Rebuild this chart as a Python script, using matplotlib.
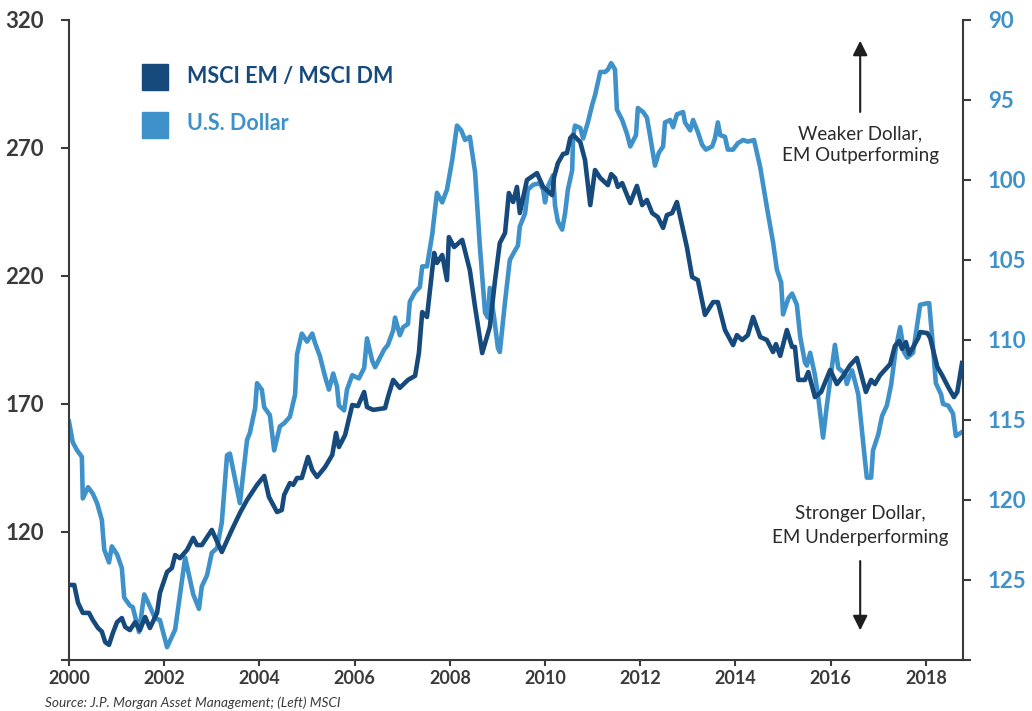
import matplotlib.pyplot as plt
from matplotlib.patches import Rectangle

# MSCI EM / MSCI DM relative index (left axis)
em_years = [
    2000.00, 2000.11, 2000.19, 2000.29, 2000.42, 2000.50, 2000.61, 2000.69, 2000.76, 2000.84,
    2000.92, 2001.01, 2001.11, 2001.18, 2001.28, 2001.39, 2001.49, 2001.60, 2001.70, 2001.85,
    2001.91, 2002.06, 2002.16, 2002.23, 2002.33, 2002.48, 2002.61, 2002.69, 2002.79, 2003.00,
    2003.21, 2003.42, 2003.59, 2003.74, 2003.95, 2004.10, 2004.20, 2004.37, 2004.47, 2004.52,
    2004.64, 2004.71, 2004.79, 2004.89, 2005.02, 2005.11, 2005.21, 2005.38, 2005.53, 2005.61,
    2005.67, 2005.80, 2005.95, 2006.07, 2006.20, 2006.26, 2006.39, 2006.64, 2006.70, 2006.81,
    2006.95, 2007.12, 2007.27, 2007.35, 2007.42, 2007.52, 2007.67, 2007.73, 2007.84, 2007.94,
    2007.98, 2008.09, 2008.26, 2008.42, 2008.53, 2008.68, 2008.84, 2008.95, 2009.05, 2009.16,
    2009.24, 2009.33, 2009.41, 2009.47, 2009.62, 2009.83, 2009.96, 2010.15, 2010.19, 2010.27,
    2010.38, 2010.46, 2010.53, 2010.59, 2010.74, 2010.84, 2010.95, 2011.05, 2011.16, 2011.32,
    2011.39, 2011.47, 2011.53, 2011.62, 2011.79, 2011.93, 2012.04, 2012.14, 2012.25, 2012.37,
    2012.48, 2012.56, 2012.67, 2012.77, 2012.90, 2012.98, 2013.09, 2013.21, 2013.36, 2013.53,
    2013.63, 2013.78, 2013.95, 2014.03, 2014.14, 2014.26, 2014.37, 2014.52, 2014.66, 2014.79,
    2014.85, 2014.94, 2015.08, 2015.19, 2015.25, 2015.32, 2015.46, 2015.53, 2015.67, 2015.80,
    2015.99, 2016.13, 2016.26, 2016.41, 2016.55, 2016.74, 2016.85, 2016.93, 2017.04, 2017.25,
    2017.35, 2017.44, 2017.50, 2017.58, 2017.65, 2017.84, 2017.88, 2018.03, 2018.09, 2018.24,
    2018.34, 2018.47, 2018.59, 2018.66, 2018.76,
]
em_values = [
    99.3, 99.3, 92.3, 88.4, 88.4, 85.6, 82.5, 81.1, 77.0, 75.9,
    80.5, 84.8, 86.4, 82.9, 81.7, 84.8, 81.7, 86.8, 82.5, 88.4,
    96.2, 104.4, 105.9, 111.0, 109.8, 113.0, 117.7, 114.9, 114.9, 120.8,
    112.2, 120.8, 127.4, 132.5, 138.4, 141.9, 133.7, 127.8, 128.6, 134.5,
    139.1, 138.4, 141.1, 141.1, 149.3, 144.2, 141.5, 145.4, 150.1, 158.7,
    153.2, 157.9, 169.6, 169.2, 174.7, 168.8, 167.7, 168.4, 172.7, 179.4,
    176.3, 179.4, 181.0, 189.9, 205.9, 204.0, 229.0, 225.1, 228.2, 218.4,
    235.2, 231.3, 234.1, 222.3, 207.9, 189.9, 200.1, 218.4, 232.9, 236.8,
    252.4, 248.9, 254.8, 244.6, 257.5, 260.2, 254.8, 251.6, 258.7, 264.1,
    267.7, 268.0, 273.9, 275.1, 272.3, 265.3, 247.7, 261.4, 258.3, 255.5,
    259.8, 258.3, 254.8, 256.3, 248.5, 255.2, 247.7, 249.7, 244.6, 243.0,
    238.8, 243.8, 244.6, 248.9, 238.0, 231.3, 219.6, 218.4, 204.8, 209.8,
    209.8, 198.9, 193.0, 196.9, 195.0, 196.9, 204.0, 196.2, 195.0, 190.3,
    193.4, 188.8, 198.9, 192.3, 192.3, 179.4, 179.4, 182.5, 172.7, 174.7,
    183.3, 177.8, 180.9, 185.2, 188.0, 174.7, 179.4, 177.8, 181.3, 185.6,
    192.7, 194.6, 191.5, 194.2, 189.5, 195.8, 198.1, 197.7, 195.8, 184.5,
    181.3, 176.6, 172.7, 174.7, 186.0,
]

# U.S. Dollar index (right axis, inverted)
usd_years = [
    2000.00, 2000.08, 2000.17, 2000.27, 2000.29, 2000.40, 2000.50, 2000.59, 2000.69, 2000.74,
    2000.84, 2000.90, 2001.01, 2001.11, 2001.16, 2001.28, 2001.34, 2001.47, 2001.58, 2001.66,
    2001.81, 2001.91, 2002.06, 2002.23, 2002.44, 2002.61, 2002.73, 2002.79, 2002.90, 2003.00,
    2003.11, 2003.21, 2003.32, 2003.38, 2003.59, 2003.74, 2003.80, 2003.91, 2003.95, 2004.05,
    2004.10, 2004.22, 2004.31, 2004.43, 2004.52, 2004.64, 2004.75, 2004.79, 2004.89, 2005.00,
    2005.11, 2005.17, 2005.27, 2005.38, 2005.46, 2005.55, 2005.63, 2005.67, 2005.78, 2005.84,
    2005.95, 2006.09, 2006.20, 2006.26, 2006.37, 2006.43, 2006.62, 2006.70, 2006.81, 2006.85,
    2006.95, 2007.02, 2007.12, 2007.16, 2007.27, 2007.37, 2007.42, 2007.52, 2007.63, 2007.73,
    2007.84, 2007.94, 2008.05, 2008.15, 2008.24, 2008.32, 2008.42, 2008.53, 2008.63, 2008.74,
    2008.80, 2008.84, 2008.93, 2009.01, 2009.05, 2009.16, 2009.26, 2009.37, 2009.43, 2009.47,
    2009.58, 2009.64, 2009.75, 2009.89, 2009.96, 2010.00, 2010.06, 2010.17, 2010.21, 2010.27,
    2010.36, 2010.42, 2010.48, 2010.57, 2010.59, 2010.63, 2010.74, 2010.80, 2010.90, 2010.99,
    2011.05, 2011.16, 2011.26, 2011.32, 2011.39, 2011.47, 2011.51, 2011.62, 2011.72, 2011.79,
    2011.91, 2011.95, 2012.06, 2012.14, 2012.21, 2012.31, 2012.39, 2012.48, 2012.52, 2012.63,
    2012.69, 2012.77, 2012.90, 2012.94, 2013.05, 2013.11, 2013.21, 2013.30, 2013.38, 2013.51,
    2013.57, 2013.63, 2013.68, 2013.78, 2013.84, 2013.95, 2014.05, 2014.16, 2014.26, 2014.39,
    2014.52, 2014.66, 2014.79, 2014.87, 2014.96, 2015.00, 2015.11, 2015.19, 2015.29, 2015.36,
    2015.46, 2015.50, 2015.57, 2015.67, 2015.74, 2015.84, 2015.92, 2016.03, 2016.09, 2016.16,
    2016.30, 2016.34, 2016.39, 2016.45, 2016.58, 2016.72, 2016.76, 2016.85, 2016.89, 2017.00,
    2017.08, 2017.18, 2017.27, 2017.37, 2017.46, 2017.54, 2017.61, 2017.73, 2017.88, 2018.03,
    2018.07, 2018.13, 2018.21, 2018.32, 2018.36, 2018.47, 2018.57, 2018.63, 2018.76,
]
usd_values = [
    115.1, 116.4, 116.9, 117.3, 119.9, 119.2, 119.6, 120.2, 121.25, 123.1,
    123.9, 122.9, 123.4, 124.25, 126.1, 126.6, 126.7, 128.25, 125.9, 126.4,
    127.4, 127.5, 129.2, 128.1, 123.6, 125.9, 126.8, 125.4, 124.7, 123.3,
    123.0, 121.4, 117.2, 117.1, 120.2, 116.25, 115.8, 114.25, 112.7, 113.1,
    114.2, 114.7, 116.9, 115.4, 115.2, 114.8, 113.4, 110.9, 109.6, 110.1,
    109.6, 110.2, 111.0, 112.3, 113.1, 112.1, 112.9, 114.1, 114.4, 113.1,
    112.2, 112.4, 111.75, 109.9, 111.3, 111.7, 110.6, 110.3, 109.4, 108.6,
    109.7, 109.2, 109.0, 107.6, 107.0, 106.7, 105.4, 105.4, 103.4, 100.8,
    101.4, 100.6, 98.75, 96.6, 96.9, 97.5, 97.3, 99.5, 104.1, 108.3,
    108.6, 106.75, 108.6, 110.5, 110.75, 107.6, 105.0, 104.4, 104.1, 102.9,
    102.1, 100.6, 100.3, 100.2, 100.6, 101.4, 100.4, 99.7, 101.6, 102.6,
    103.1, 102.1, 100.6, 99.4, 97.3, 96.6, 96.75, 97.4, 96.4, 95.3,
    94.7, 93.25, 93.25, 93.1, 92.7, 93.1, 95.6, 96.25, 97.1, 97.9,
    97.2, 95.5, 95.75, 96.1, 97.3, 99.1, 98.3, 97.9, 96.4, 96.25,
    96.7, 95.9, 95.75, 96.4, 96.9, 96.25, 97.0, 97.8, 98.1, 97.9,
    97.4, 96.4, 97.2, 97.3, 98.1, 98.1, 97.7, 97.5, 97.6, 97.5,
    99.2, 101.7, 103.9, 105.6, 106.4, 108.4, 107.4, 107.1, 107.8, 109.8,
    111.4, 111.6, 110.8, 112.2, 113.6, 116.1, 114.1, 111.6, 110.3, 111.75,
    112.1, 112.75, 112.3, 111.9, 113.4, 117.5, 118.6, 118.6, 116.9, 115.9,
    114.75, 114.1, 112.8, 110.5, 109.2, 110.75, 111.1, 110.8, 107.8, 107.7,
    107.7, 109.75, 112.7, 113.4, 114.0, 114.1, 114.6, 116.0, 115.75,
]

left_ticks = [70, 120, 170, 220, 270, 320]
right_ticks = [90, 95, 100, 105, 110, 115, 120, 125, 130]
x_ticks = list(range(2000, 2019, 2))

dark = "#174a7c"
light = "#3f92c9"
grey = "#3a3a3a"

plt.rcParams["font.family"] = ["Lato", "DejaVu Sans"]

fig = plt.figure(figsize=(10.32, 7.11), dpi=100)
ax = fig.add_axes([69 / 1032, 51 / 711, 894 / 1032, 640 / 711])
ax2 = ax.twinx()

ax.plot(em_years, em_values, color=dark, lw=3.3, solid_joinstyle="round", zorder=3)
ax2.plot(usd_years, usd_values, color=light, lw=3.3, solid_joinstyle="round", zorder=2)
ax.set_zorder(ax2.get_zorder() + 1)
ax.patch.set_visible(False)

ax.set_xlim(2000, 2018.78)
ax.set_ylim(70, 320)
ax2.set_ylim(130, 90)

ax.set_xticks(x_ticks)
ax.set_xticklabels([str(t) for t in x_ticks], fontsize=13, fontweight="bold", color=grey)
ax.set_yticks(left_ticks)
ax.set_yticklabels([""] + [str(t) for t in left_ticks[1:]], fontsize=16,
                   fontweight="bold", color=grey)
ax2.set_yticks(right_ticks)
ax2.set_yticklabels([str(t) for t in right_ticks[:-1]] + [""], fontsize=16,
                    fontweight="bold", color=light)

for a in (ax, ax2):
    for s in a.spines.values():
        s.set_color(grey)
        s.set_linewidth(1.5)
    a.spines["top"].set_visible(False)
ax.spines["right"].set_visible(False)
ax2.spines["left"].set_visible(False)
ax2.spines["bottom"].set_visible(False)

ax.tick_params(axis="y", length=6, width=1.5, color=grey, pad=12)
ax.tick_params(axis="x", length=4, width=1.5, color=grey, pad=3)
ax2.tick_params(axis="y", length=6, width=1.5, color=grey, pad=12)

# legend drawn by hand
fig.add_artist(Rectangle((142, 711 - 90), 26, 26, transform=None, color=dark))
fig.add_artist(Rectangle((142, 711 - 138), 26, 26, transform=None, color=light))
fig.text(187 / 1032, 1 - 77 / 711, "MSCI EM / MSCI DM", fontsize=15.5, fontweight="bold",
         color=dark, va="center")
fig.text(187 / 1032, 1 - 124 / 711, "U.S. Dollar", fontsize=15.5, fontweight="bold",
         color=light, va="center")

# direction annotations
arrow = dict(arrowstyle="-|>", color="#1e1e1e", lw=1.5, mutation_scale=22)
ax.annotate("", xy=(0.885, 0.972), xytext=(0.885, 0.852), xycoords="axes fraction",
            arrowprops=arrow)
ax.annotate("", xy=(0.885, 0.042), xytext=(0.885, 0.159), xycoords="axes fraction",
            arrowprops=arrow)
ax.text(0.885, 0.805, "Weaker Dollar,\nEM Outperforming", transform=ax.transAxes,
        ha="center", va="center", fontsize=13.5, color="#2a2a2a", linespacing=1.3)
ax.text(0.885, 0.210, "Stronger Dollar,\nEM Underperforming", transform=ax.transAxes,
        ha="center", va="center", fontsize=13.5, color="#2a2a2a", linespacing=1.55)

fig.text(45 / 1032, 1 - 703 / 711, "Source: J.P. Morgan Asset Management; (Left) MSCI",
         fontsize=9.8, style="italic", color=grey, va="center")

fig.savefig("out.png", dpi=100)
